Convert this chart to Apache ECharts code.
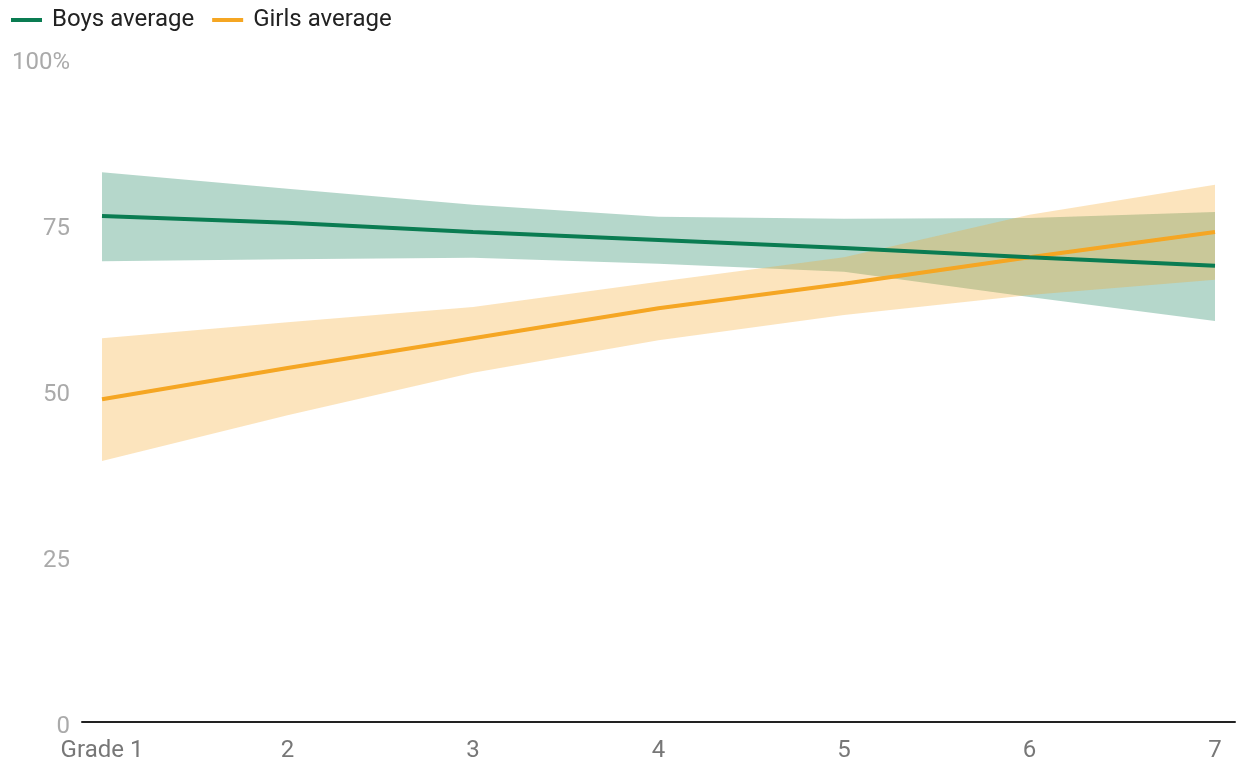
<!DOCTYPE html>
<html>
<head>
<meta charset="utf-8">
<script src="https://cdn.jsdelivr.net/npm/echarts@6/dist/echarts.min.js"></script>
<style>
  html, body { margin: 0; padding: 0; background: #fff; }
  #chart { width: 1238px; height: 763px; }
</style>
</head>
<body>
<div id="chart"></div>
<script>
// grades on the x axis
var grades = ['Grade 1', '2', '3', '4', '5', '6', '7'];
// y tick values
var yTicks = [0, 25, 50, 75, 100];

// boys: average line and band bounds (%)
var boysAvg  = [76.2, 75.2, 73.8, 72.6, 71.4, 70.0, 68.7];
var boysLow  = [69.4, 69.7, 69.9, 69.0, 67.8, 64.0, 60.4];
var boysHigh = [82.8, 80.3, 77.9, 76.1, 75.8, 75.9, 76.8];

// girls: average line and band bounds (%)
var girlsAvg  = [48.6, 53.3, 57.8, 62.3, 66.0, 70.0, 73.8];
var girlsLow  = [39.3, 46.2, 52.6, 57.5, 61.3, 64.3, 66.6];
var girlsHigh = [57.8, 60.2, 62.5, 66.3, 70.0, 76.4, 80.9];

var green = '#0a7c52';
var orange = '#f5a623';

function diff(hi, lo) {
    return hi.map(function (v, i) { return +(v - lo[i]).toFixed(2); });
}

var chart = echarts.init(document.getElementById('chart'));

var option = {
    animation: false,
    textStyle: { fontFamily: 'Roboto, sans-serif' },
    legend: {
        data: ['Boys average', 'Girls average'],
        left: 6,
        top: 3,
        icon: 'rect',
        itemWidth: 31,
        itemHeight: 4,
        itemGap: 18,
        textStyle: { fontSize: 24, color: '#222', fontFamily: 'Roboto, sans-serif', padding: [0, 0, 0, 5] }
    },
    grid: [
        { left: 102, right: 23, top: 58, bottom: 41 },
        { left: 82, right: 3, top: 58, bottom: 41 }
    ],
    xAxis: [{
        type: 'category',
        gridIndex: 0,
        boundaryGap: false,
        data: grades,
        axisLine: { show: false },
        axisTick: { show: false },
        axisLabel: { color: '#777', fontSize: 24, margin: 17, fontFamily: 'Roboto, sans-serif' }
    }, {
        // baseline only, reaches a bit past the first and last grade
        type: 'value',
        gridIndex: 1,
        min: 0,
        max: 1,
        axisLine: { show: true, lineStyle: { color: '#222', width: 2 } },
        axisTick: { show: false },
        axisLabel: { show: false },
        splitLine: { show: false }
    }],
    yAxis: [{
        type: 'value',
        gridIndex: 0,
        min: yTicks[0],
        max: yTicks[yTicks.length - 1],
        interval: 25,
        axisLine: { show: false },
        axisTick: { show: false },
        splitLine: { show: false },
        axisLabel: {
            margin: 32,
            formatter: function (v) { return '{t|' + (v === 100 ? '100%' : String(v)) + '}'; },
            rich: {
                t: {
                    color: '#aaa',
                    fontSize: 24,
                    fontFamily: 'Roboto, sans-serif',
                    padding: [9, 0, 0, 0]
                }
            }
        }
    }, {
        type: 'value',
        gridIndex: 1,
        min: 0,
        max: 100,
        show: false
    }],
    series: [
        {
            name: 'boysLow',
            type: 'line',
            stack: 'boys',
            data: boysLow,
            symbol: 'none',
            lineStyle: { opacity: 0 },
            silent: true,
            z: 1
        },
        {
            name: 'boysBand',
            type: 'line',
            stack: 'boys',
            data: diff(boysHigh, boysLow),
            symbol: 'none',
            lineStyle: { opacity: 0 },
            areaStyle: { color: green, opacity: 0.3 },
            silent: true,
            z: 1
        },
        {
            name: 'girlsLow',
            type: 'line',
            stack: 'girls',
            data: girlsLow,
            symbol: 'none',
            lineStyle: { opacity: 0 },
            silent: true,
            z: 2
        },
        {
            name: 'girlsBand',
            type: 'line',
            stack: 'girls',
            data: diff(girlsHigh, girlsLow),
            symbol: 'none',
            lineStyle: { opacity: 0 },
            areaStyle: { color: orange, opacity: 0.3 },
            silent: true,
            z: 2
        },
        {
            name: 'Girls average',
            type: 'line',
            data: girlsAvg,
            symbol: 'none',
            itemStyle: { color: orange },
            lineStyle: { color: orange, width: 4 },
            z: 3
        },
        {
            name: 'Boys average',
            type: 'line',
            data: boysAvg,
            symbol: 'none',
            itemStyle: { color: green },
            lineStyle: { color: green, width: 4 },
            z: 4
        }
    ]
};

chart.setOption(option);
</script>
</body>
</html>
